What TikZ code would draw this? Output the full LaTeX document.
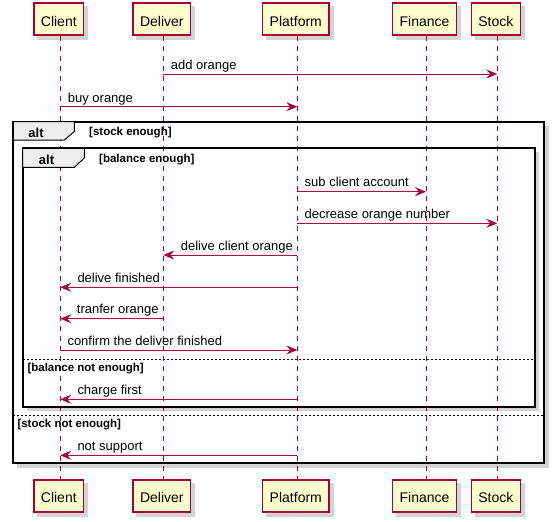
\documentclass[tikz,border=0pt]{standalone}
\usepackage{fontspec}
\setmainfont{Liberation Sans}
\usetikzlibrary{arrows.meta,backgrounds}
\definecolor{pcol}{HTML}{A80036}
\definecolor{pyel}{HTML}{FEFECE}
\definecolor{tabg}{HTML}{EEEEEE}
\definecolor{shdc}{HTML}{D4D4D4}
\begin{document}
\begin{tikzpicture}[x=1pt,y=-1pt,
  part/.style={draw=pcol, fill=pyel, line width=1.5pt, minimum height=32pt, inner xsep=7pt, inner ysep=0pt,
    text height=14pt, text depth=0pt, font=\fontsize{14}{16}\selectfont},
  life/.style={draw=pcol, line width=0.8pt, dash pattern=on 5pt off 5pt},
  msg/.style={draw=pcol, line width=1pt, -{Stealth[length=11pt,width=9pt,inset=4pt]}},
  lbl/.style={font=\fontsize{13}{15}\selectfont, inner sep=0pt, anchor=base west},
  frm/.style={line width=2pt, draw=black},
  tabshape/.style={line width=1pt, draw=black, fill=tabg},
  altlbl/.style={font=\bfseries\fontsize{13}{15}\selectfont, inner sep=0pt, anchor=base},
  cond/.style={font=\bfseries\fontsize{11.5}{13}\selectfont, inner sep=0pt, anchor=base west},
  sep/.style={draw=black, line width=0.8pt, dash pattern=on 2pt off 2pt},
  shd/.style={fill=shdc}]
\useasboundingbox (0,0) rectangle (555,522);

% participants (top)
\node[part] (Client)   at (58.8,19.2)  {Client};
\node[part] (Deliver)  at (161.8,19.2) {Deliver};
\node[part] (Platform) at (295.8,19.2) {Platform};
\node[part] (Finance)  at (424.5,19.2) {Finance};
\node[part] (Stock)    at (495.8,19.2) {Stock};
% participants (bottom)
\node[part] (ClientB)   at (58.8,495.8)  {Client};
\node[part] (DeliverB)  at (161.8,495.8) {Deliver};
\node[part] (PlatformB) at (295.8,495.8) {Platform};
\node[part] (FinanceB)  at (424.5,495.8) {Finance};
\node[part] (StockB)    at (495.8,495.8) {Stock};

\begin{scope}[on background layer]
  \fill[white] (0,0) rectangle (555,522);
  \foreach \n in {Client,Deliver,Platform,Finance,Stock,ClientB,DeliverB,PlatformB,FinanceB,StockB}{
    \fill[shd] ([shift={(4,4)}]\n.north west) rectangle ([shift={(4,4)}]\n.south east);
  }
  % frame shadows
  \fill[shd] (544,126) rectangle (548.5,467.5);
  \fill[shd] (17,463.3) rectangle (548.5,467.5);
  \fill[shd] (534.7,152) rectangle (538.5,410.5);
  \fill[shd] (27,406.7) rectangle (538.5,410.5);
\end{scope}

% lifelines
\foreach \n/\c in {Client/lC,Deliver/lD,Platform/lP,Finance/lF,Stock/lS}{
  \coordinate (\c) at ([xshift=1.5pt]\n.south);
  \coordinate (\c b) at ([xshift=1.5pt]\n B.north);
  \draw[life] (\c) -- (\c b);
}

% outer alt frame
\draw[frm] (13.3,121.5) rectangle (544,463.3);
\draw[tabshape] (13.3,121.5) -- (74.3,121.5) -- (74.3,131.5) -- (64.3,140) -- (13.3,140) -- cycle;
\node[altlbl] (alt1) at (36,137.5) {alt};
\node[cond] (c1) at (89,135.7) {[stock enough]};
% inner alt frame
\draw[frm] (22.7,148.3) rectangle (534.7,406.7);
\draw[tabshape] (22.7,148.3) -- (84.3,148.3) -- (84.3,158) -- (74.3,167.3) -- (22.7,167.3) -- cycle;
\node[altlbl] (alt2) at (46.5,164.3) {alt};
\node[cond] (c2) at (99,162.3) {[balance enough]};
% separators
\draw[sep] (22.7,359.3) -- (534.7,359.3);
\node[cond] (c3) at (27.3,371.7) {[balance not enough]};
\draw[sep] (13.3,415.3) -- (544,415.3);
\node[cond] (c4) at (17.3,427.3) {[stock not enough]};

% messages
\draw[msg] (lD |- 0,74) -- (lS |- 0,74);
\node[lbl] (m1) at (170.7,69.5) {add orange};
\draw[msg] (lC |- 0,106.7) -- (lP |- 0,106.7);
\node[lbl] (m2) at (67.7,102) {buy orange};
\draw[msg] (lP |- 0,191.7) -- (lF |- 0,191.7);
\node[lbl] (m3) at (304.5,186.7) {sub client account};
\draw[msg] (lP |- 0,223.3) -- (lS |- 0,223.3);
\node[lbl] (m4) at (304.5,218.3) {decrease orange number};
\draw[msg] (lP |- 0,255) -- (lD |- 0,255);
\node[lbl] (m5) at (180.7,250) {delive client orange};
\draw[msg] (lP |- 0,287.3) -- (lC |- 0,287.3);
\node[lbl] (m6) at (77.3,282.3) {delive finished};
\draw[msg] (lD |- 0,318.7) -- (lC |- 0,318.7);
\node[lbl] (m7) at (76.7,313.7) {tranfer orange};
\draw[msg] (lC |- 0,350) -- (lP |- 0,350);
\node[lbl] (m8) at (67.3,345) {confirm the deliver finished};
\draw[msg] (lP |- 0,399.3) -- (lC |- 0,399.3);
\node[lbl] (m9) at (77.3,394.3) {charge first};
\draw[msg] (lP |- 0,455.3) -- (lC |- 0,455.3);
\node[lbl] (m10) at (77.3,450.3) {not support};
\end{tikzpicture}
\end{document}
